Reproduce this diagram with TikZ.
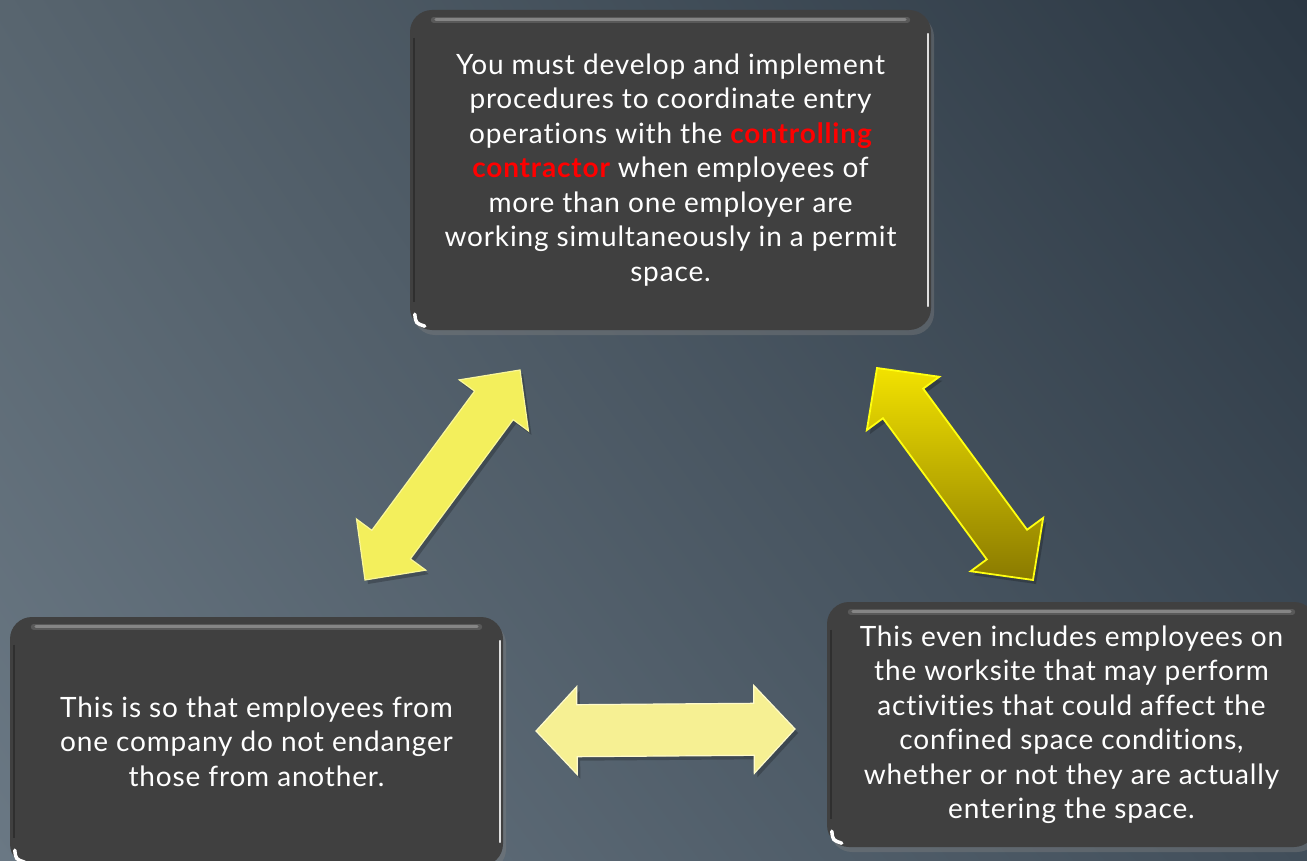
\documentclass[tikz,border=0pt]{standalone}
\usepackage{fontspec}
\setmainfont{Lato}[LetterSpace=3,Ligatures=NoCommon]
\usetikzlibrary{calc,shadows,shadings}
\definecolor{boxfill}{HTML}{404040}
\definecolor{bgUL}{HTML}{58656F}
\definecolor{bgLL}{HTML}{6A7884}
\definecolor{bgUR}{HTML}{2B3743}
\definecolor{bgLR}{HTML}{414E5A}
\definecolor{arOne}{HTML}{F3EF5C}
\definecolor{arOneEdge}{HTML}{FAF79A}
\definecolor{arTwoTop}{HTML}{F2E200}
\definecolor{arTwoBot}{HTML}{8A7A00}
\definecolor{arTwoEdge}{HTML}{FFFF10}
\definecolor{arThree}{HTML}{F6F093}
\definecolor{arThreeEdge}{HTML}{FFFBCB}
\definecolor{hiGray}{HTML}{8A8A8A}
\newcommand\fatarrow[6]{%
 \path ($(#1)!#5!(#2)$) coordinate (h1) ($(#2)!#5!(#1)$) coordinate (h2);
 \path ($(h1)!#4!-90:(#2)$) coordinate (p1) ($(h1)!#3!-90:(#2)$) coordinate (p2)
 ($(h2)!#3!90:(#1)$) coordinate (p3) ($(h2)!#4!90:(#1)$) coordinate (p4)
 ($(h2)!#4!-90:(#1)$) coordinate (p5) ($(h2)!#3!-90:(#1)$) coordinate (p6)
 ($(h1)!#3!90:(#2)$) coordinate (p7) ($(h1)!#4!90:(#2)$) coordinate (p8);
 \fill[black,opacity=.22,transform canvas={xshift=3pt,yshift=-4pt}] (#1)--(p1)--(p2)--(p3)--(p4)--(#2)--(p5)--(p6)--(p7)--(p8)--cycle;
 \path[#6] (#1)--(p1)--(p2)--(p3)--(p4)--(#2)--(p5)--(p6)--(p7)--(p8)--cycle;
}
\newcommand\bevel[1]{%
 \draw[hiGray,line width=6pt,line cap=round,opacity=.35] ($(#1.north west)+(24,10)$) -- ($(#1.north east)+(-24,10)$);
 \draw[hiGray,line width=3pt,line cap=round,opacity=.9] ($(#1.north west)+(26,10)$) -- ($(#1.north east)+(-26,10)$);
 \draw[white!75!gray,line width=1.6pt,line cap=round] ($(#1.north east)+(-3,24)$) -- ($(#1.south east)+(-3,-24)$);
 \draw[black,line width=1.5pt,opacity=.25] ($(#1.north west)+(4,28)$) -- ($(#1.south west)+(4,-28)$);
 \draw[white,line width=3.5pt,line cap=round] ($(#1.south west)+(5,-16)$) .. controls ($(#1.south west)+(6,-7)$) .. ($(#1.south west)+(15,-4)$);
}
\begin{document}
\begin{tikzpicture}[x=1pt,y=-1pt,
  box/.style={fill=boxfill, rounded corners=22pt, text=white, align=center,
    font=\fontsize{28}{34.5}\selectfont, inner sep=0pt,
    drop shadow={opacity=.4, shadow xshift=3pt, shadow yshift=-5pt}}]
\useasboundingbox (0,0) rectangle (1307,861);
\clip (0,0) rectangle (1307,861);
\shade[upper left=bgUL, upper right=bgUR, lower left=bgLL, lower right=bgLR] (0,0) rectangle (1307,861);

\node[box, minimum width=521pt, minimum height=320pt] (top) at (670.5,170)
 {You must develop and implement\\
  procedures to coordinate entry\\
  operations with the {\color{red}\bfseries controlling}\\
  {\color{red}\bfseries contractor} when employees of\\
  more than one employer are\\
  working simultaneously in a permit\\
  space.};
\node[box, minimum width=493pt, minimum height=249pt] (left) at (256.5,741.5)
 {This is so that employees from\\
  one company do not endanger\\
  those from another.};
\node[box, minimum width=489pt, minimum height=245pt] (right) at (1071.5,724.5)
 {This even includes employees on\\
  the worksite that may perform\\
  activities that could affect the\\
  confined space conditions,\\
  whether or not they are actually\\
  entering the space.};
\bevel{top}\bevel{left}\bevel{right}

\coordinate (a1s) at (365,580); \coordinate (a1e) at (520,370);
\coordinate (a2s) at (877,368); \coordinate (a2e) at (1033,580);
\coordinate (a3s) at (536,731); \coordinate (a3e) at (795,729);
\fatarrow{a1s}{a1e}{24pt}{43pt}{44pt}{fill=arOne, draw=arOneEdge, line width=1.2pt, line join=miter}
\fatarrow{a2s}{a2e}{25pt}{45pt}{44pt}{top color=arTwoTop, bottom color=arTwoBot, draw=arTwoEdge, line width=1.8pt}
\fatarrow{a3s}{a3e}{26pt}{44pt}{41pt}{fill=arThree, draw=arThreeEdge, line width=1.2pt}
\end{tikzpicture}
\end{document}
